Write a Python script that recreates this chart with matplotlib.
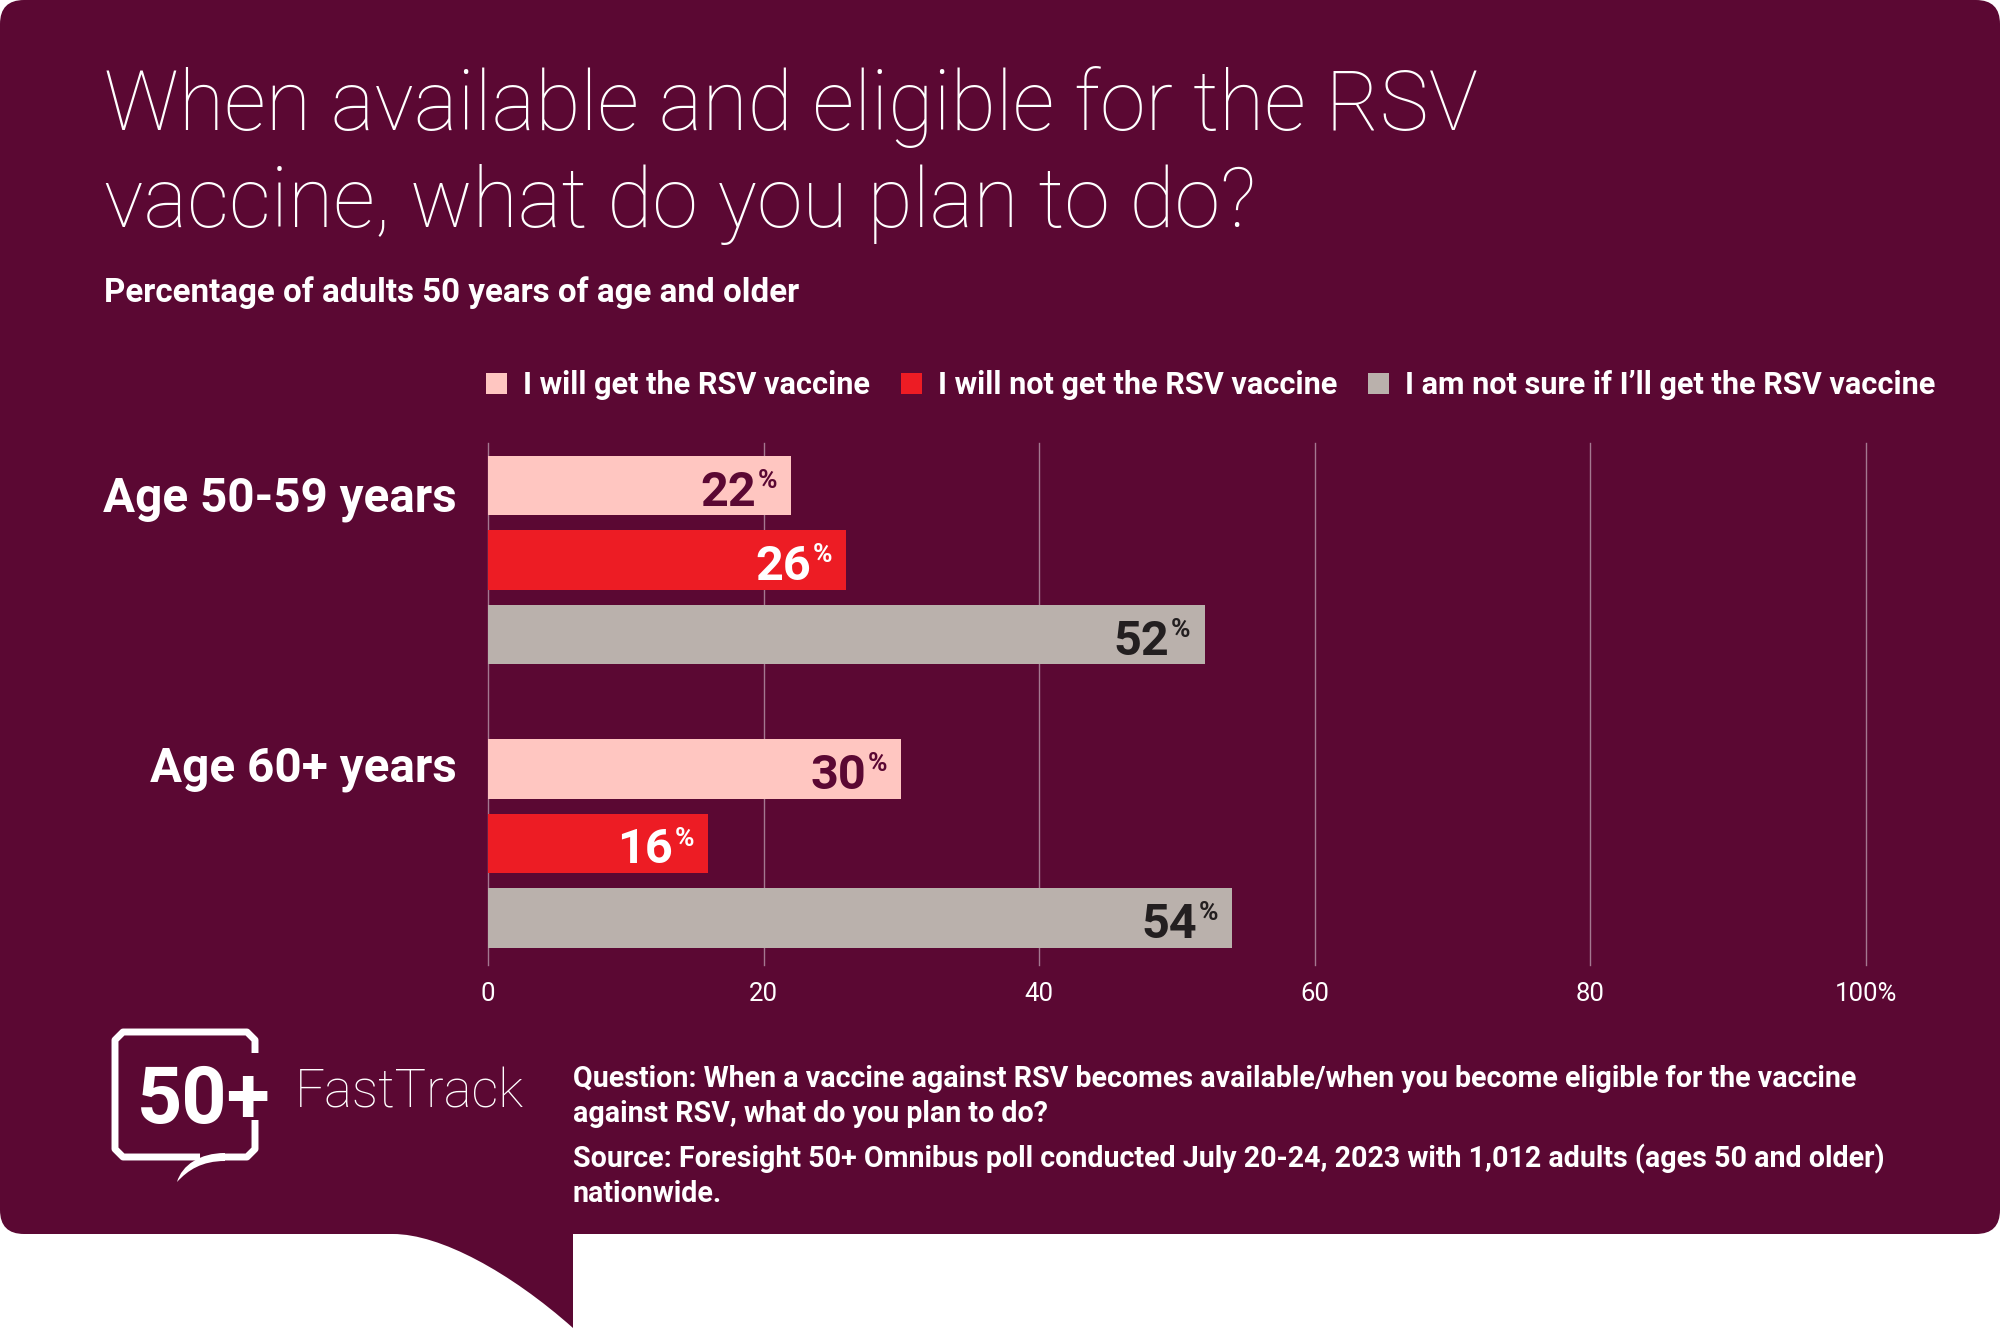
import matplotlib
matplotlib.use('Agg')
import matplotlib.pyplot as plt
from matplotlib.patches import FancyBboxPatch, PathPatch
from matplotlib.path import Path
import numpy as np

plt.rcParams['font.family'] = ['Roboto', 'DejaVu Sans']

# data
groups = ['Age 50-59 years', 'Age 60+ years']
series = ['I will get the RSV vaccine', 'I will not get the RSV vaccine',
          'I am not sure if I\u2019ll get the RSV vaccine']
will_get = [22, 30]
will_not = [26, 16]
not_sure = [52, 54]
xticks = [0, 20, 40, 60, 80, 100]
xtick_labels = ['0', '20', '40', '60', '80', '100%']

title1 = 'When available and eligible for the RSV'
title2 = 'vaccine, what do you plan to do?'
subtitle = 'Percentage of adults 50 years of age and older'
question = ['Question: When a vaccine against RSV becomes available/when you become eligible for the vaccine',
            'against RSV, what do you plan to do?']
source = ['Source: Foresight 50+ Omnibus poll conducted July 20-24, 2023 with 1,012 adults (ages 50 and older)',
          'nationwide.']

BG = '#5B0833'
colors = ['#FFC6C1', '#ED1C24', '#BAB1AC']
label_colors = [BG, 'white', '#231F20']
GRID = '#a47890'

W, H = 2000, 1328
fig = plt.figure(figsize=(20, 13.28), dpi=100, facecolor='white')

# background layer in pixel coords (y down)
bg = fig.add_axes([0, 0, 1, 1])
bg.set_xlim(0, W)
bg.set_ylim(H, 0)
bg.axis('off')
bg.add_patch(FancyBboxPatch((0, 0), W, 1234, boxstyle='round,pad=0,rounding_size=24',
                            fc=BG, ec='none'))
tail = Path([(393, 1234), (440, 1234), (510, 1272), (573, 1328), (573, 1220), (380, 1220), (393, 1234)],
            [Path.MOVETO, Path.CURVE4, Path.CURVE4, Path.CURVE4, Path.LINETO, Path.LINETO, Path.CLOSEPOLY])
bg.add_patch(PathPatch(tail, fc=BG, ec='none'))

# titles
bg.text(104, 130, title1, fontsize=59.5, weight='light', color='white', va='baseline')
bg.text(104, 227, title2, fontsize=59.5, weight='light', color='white', va='baseline')
bg.text(104, 302, subtitle, fontsize=23.9, weight='bold', color='white', va='baseline')

# group labels
bg.text(457, 512, groups[0], fontsize=34.3, weight='bold', color='white', ha='right', va='baseline')
bg.text(457, 782, groups[1], fontsize=34.3, weight='bold', color='white', ha='right', va='baseline')

# logo
lw = 5
bg.plot([200, 123, 115, 115, 123, 247, 255, 255], [1157, 1157, 1149, 1040, 1032, 1032, 1040, 1053],
        color='white', lw=lw, solid_capstyle='butt', solid_joinstyle='round')
bg.plot([255, 255, 247, 222], [1120, 1149, 1157, 1157], color='white', lw=lw,
        solid_capstyle='butt', solid_joinstyle='round')
swoosh = Path([(225, 1153), (200, 1153), (182, 1165), (177, 1182),
               (188, 1170), (202, 1161), (225, 1161), (225, 1153)],
              [Path.MOVETO, Path.CURVE4, Path.CURVE4, Path.CURVE4,
               Path.CURVE4, Path.CURVE4, Path.CURVE4, Path.CLOSEPOLY])
bg.add_patch(PathPatch(swoosh, fc='white', ec='none'))
bg.text(137, 1123, '50+', fontsize=57, weight='bold', color='white', va='baseline')
bg.text(295, 1107, 'FastTrack', fontsize=38, weight='light', color='white', va='baseline')

# footer
for txt, yy in zip(question + source, [1087, 1122, 1167, 1202]):
    bg.text(573, yy, txt, fontsize=20.6, weight='bold', color='white', va='baseline')

# chart
ax = fig.add_axes([488 / W, 1 - 965 / H, 1378 / W, (965 - 443) / H])
ax.set_facecolor('none')
gap = 3.8
base = np.arange(len(groups)) * gap
for i, (vals, c, lc) in enumerate(zip([will_get, will_not, not_sure], colors, label_colors)):
    ys = base + i
    ax.barh(ys, vals, height=0.8, color=c, label=series[i], zorder=2)
    for v, yy in zip(vals, ys):
        ax.annotate(str(v), xy=(v, yy), xytext=(-25.5, -14.4), textcoords='offset points',
                    ha='right', va='baseline', fontsize=35, weight='bold', color=lc, zorder=3)
        ax.annotate('%', xy=(v, yy), xytext=(-10, -1.5), textcoords='offset points',
                    ha='right', va='baseline', fontsize=19, weight='bold', color=lc, zorder=3)

ax.set_xlim(0, 100)
ax.set_ylim(6.43, -0.57)
ax.set_xticks(xticks, xtick_labels)
ax.set_yticks([])
ax.tick_params(axis='x', length=0, colors='white', labelsize=18.5, pad=12)
for sp in ax.spines.values():
    sp.set_visible(False)
ax.grid(axis='x', color=GRID, lw=1, zorder=0)
ax.set_axisbelow(True)
for gl in ax.get_xgridlines():
    gl.set_clip_on(False)

ax.legend(loc='center left', bbox_to_anchor=(486, 385), bbox_transform=bg.transData,
          ncol=3, frameon=False, borderpad=0, borderaxespad=0,
          handlelength=0.69, handleheight=0.69, handletextpad=0.52, columnspacing=1.0,
          prop={'weight': 'bold', 'size': 22.1}, labelcolor='white')

fig.savefig('out.png', dpi=100, facecolor='white')
